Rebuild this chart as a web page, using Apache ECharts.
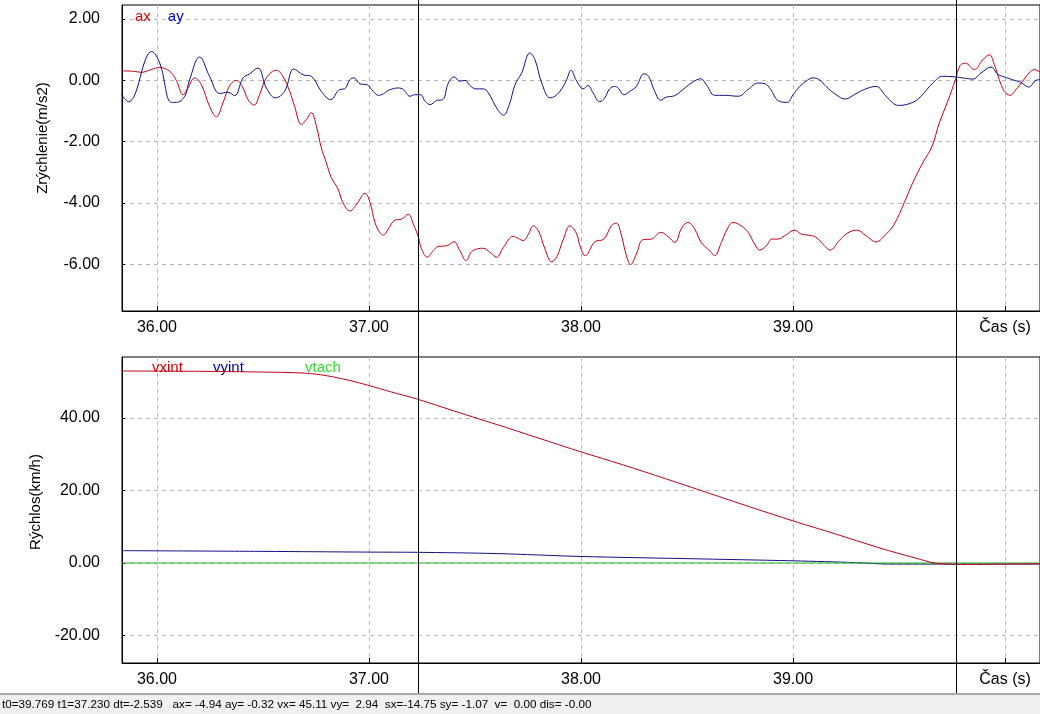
<!DOCTYPE html>
<html>
<head>
<meta charset="utf-8">
<script src="https://cdn.jsdelivr.net/npm/echarts@6/dist/echarts.min.js"></script>
<style>
  html, body { margin: 0; padding: 0; background: #fff; }
  #chart { width: 1040px; height: 714px; }
</style>
</head>
<body>
<div id="chart"></div>
<script>
// time range of the record (s)
var tMin = 35.835;
var tMax = 40.165;
var timeTicks = [36, 37, 38, 39, 40];
var accTicks = [2, 0, -2, -4, -6];
var speedTicks = [40, 20, 0, -20];

// cursors
var cursorT0 = 39.769;
var cursorT1 = 37.230;

// ax (m/s2)
var axTime = [35.832, 35.895, 35.926, 35.973, 36.013, 36.060, 36.091, 36.123, 36.146, 36.178, 36.209, 36.248, 36.280, 36.311, 36.343, 36.374, 36.406, 36.429, 36.458, 36.484, 36.516, 36.563, 36.594, 36.626, 36.649, 36.681, 36.704, 36.728, 36.752, 36.775, 36.799, 36.822, 36.854, 36.877, 36.910, 36.942, 36.981, 37.005, 37.028, 37.052, 37.068, 37.091, 37.123, 37.154, 37.185, 37.209, 37.233, 37.248, 37.275, 37.303, 37.327, 37.366, 37.401, 37.429, 37.458, 37.484, 37.511, 37.539, 37.571, 37.602, 37.634, 37.681, 37.704, 37.728, 37.752, 37.775, 37.799, 37.830, 37.862, 37.885, 37.917, 37.948, 37.980, 37.995, 38.020, 38.065, 38.108, 38.143, 38.167, 38.187, 38.214, 38.234, 38.261, 38.292, 38.332, 38.376, 38.414, 38.442, 38.476, 38.505, 38.536, 38.567, 38.607, 38.630, 38.662, 38.690, 38.717, 38.756, 38.788, 38.819, 38.843, 38.874, 38.901, 38.929, 38.961, 39.008, 39.039, 39.061, 39.108, 39.148, 39.175, 39.218, 39.258, 39.300, 39.344, 39.392, 39.439, 39.478, 39.525, 39.565, 39.612, 39.656, 39.690, 39.730, 39.766, 39.788, 39.813, 39.855, 39.895, 39.926, 39.950, 39.973, 39.997, 40.024, 40.052, 40.083, 40.114, 40.138, 40.165];
var axVal = [0.31, 0.29, 0.26, 0.35, 0.42, 0.29, 0.00, -0.47, -0.25, 0.08, -0.14, -0.85, -1.19, -0.74, -0.17, 0.00, -0.25, -0.63, -0.81, -0.47, 0.08, 0.33, 0.13, -0.36, -0.85, -1.44, -1.28, -1.06, -1.50, -2.20, -2.69, -3.17, -3.55, -3.99, -4.26, -4.04, -3.69, -3.99, -4.64, -4.98, -5.05, -4.85, -4.56, -4.53, -4.37, -4.69, -5.12, -5.50, -5.77, -5.56, -5.42, -5.40, -5.27, -5.56, -5.88, -5.59, -5.50, -5.48, -5.61, -5.77, -5.45, -5.09, -5.16, -5.23, -5.02, -4.75, -4.91, -5.50, -5.92, -5.77, -5.18, -4.75, -5.02, -5.40, -5.72, -5.27, -5.18, -4.75, -4.66, -4.96, -5.72, -6.01, -5.67, -5.20, -5.18, -4.96, -5.12, -5.29, -4.80, -4.64, -4.85, -5.29, -5.56, -5.72, -5.29, -4.85, -4.64, -4.75, -4.96, -5.34, -5.54, -5.40, -5.18, -5.18, -5.07, -4.89, -5.02, -5.04, -5.12, -5.40, -5.54, -5.23, -4.98, -4.89, -5.07, -5.27, -5.02, -4.69, -3.99, -3.34, -2.69, -2.15, -1.39, -0.68, 0.02, 0.48, 0.56, 0.35, 0.67, 0.83, 0.51, 0.02, -0.36, -0.49, -0.30, -0.03, 0.24, 0.35, 0.26];

// ay (m/s2)
var ayTime = [35.832, 35.866, 35.976, 36.013, 36.068, 36.091, 36.131, 36.154, 36.201, 36.248, 36.296, 36.335, 36.366, 36.406, 36.437, 36.476, 36.516, 36.558, 36.602, 36.646, 36.689, 36.728, 36.775, 36.819, 36.862, 36.885, 36.910, 36.929, 36.958, 36.989, 37.020, 37.044, 37.068, 37.091, 37.138, 37.162, 37.193, 37.217, 37.244, 37.264, 37.288, 37.319, 37.348, 37.374, 37.401, 37.429, 37.453, 37.476, 37.505, 37.539, 37.563, 37.602, 37.634, 37.662, 37.689, 37.720, 37.759, 37.783, 37.815, 37.854, 37.877, 37.909, 37.932, 37.953, 37.976, 37.995, 38.009, 38.033, 38.057, 38.088, 38.112, 38.135, 38.159, 38.175, 38.203, 38.230, 38.261, 38.297, 38.319, 38.344, 38.376, 38.402, 38.442, 38.481, 38.520, 38.565, 38.591, 38.631, 38.678, 38.741, 38.788, 38.835, 38.867, 38.895, 38.929, 38.973, 39.000, 39.032, 39.061, 39.093, 39.124, 39.156, 39.203, 39.247, 39.289, 39.336, 39.392, 39.439, 39.498, 39.565, 39.604, 39.659, 39.706, 39.766, 39.808, 39.848, 39.887, 39.934, 39.965, 39.997, 40.036, 40.075, 40.112, 40.146, 40.165];
var ayVal = [-0.47, -0.70, 0.94, 0.56, -0.72, -0.72, -0.52, 0.02, 0.76, 0.13, -0.43, -0.39, -0.50, 0.08, 0.21, 0.40, -0.25, -0.57, -0.36, 0.37, 0.18, 0.13, -0.36, -0.63, -0.30, -0.28, 0.02, 0.08, -0.12, -0.14, -0.36, -0.49, -0.44, -0.33, -0.25, -0.30, -0.52, -0.47, -0.47, -0.68, -0.79, -0.66, -0.63, -0.09, 0.11, -0.03, 0.00, -0.17, -0.28, -0.28, -0.41, -0.90, -1.14, -0.79, -0.14, 0.24, 0.89, 0.67, -0.09, -0.57, -0.52, -0.28, 0.02, 0.33, 0.02, -0.20, -0.28, -0.17, -0.41, -0.70, -0.57, -0.28, -0.20, -0.25, -0.47, -0.36, -0.20, 0.21, 0.13, -0.30, -0.65, -0.55, -0.50, -0.30, -0.09, 0.05, -0.14, -0.49, -0.49, -0.52, -0.30, -0.09, -0.11, -0.30, -0.66, -0.72, -0.47, -0.20, -0.03, 0.08, 0.02, -0.20, -0.47, -0.61, -0.47, -0.30, -0.20, -0.52, -0.82, -0.72, -0.52, -0.09, 0.13, 0.11, 0.07, 0.04, 0.24, 0.43, 0.20, 0.11, 0.02, -0.07, -0.22, 0.00, 0.02];

// vxint (km/h)
var vxTime = [35.835, 36.2, 36.5, 36.7, 36.8, 36.9, 37.0, 37.1, 37.23, 37.4, 37.6, 37.8, 38.0, 38.2, 38.4, 38.6, 38.8, 39.0, 39.2, 39.4, 39.5, 39.6, 39.65, 39.7, 39.8, 40.0, 40.165];
var vxVal = [52.9, 52.8, 52.6, 52.3, 51.6, 50.4, 48.9, 47.2, 45.11, 41.9, 38.2, 34.4, 30.6, 27.0, 23.2, 19.3, 15.4, 11.6, 8.0, 4.3, 2.6, 1.0, 0.2, -0.2, -0.4, -0.3, -0.2];

// vyint (km/h)
var vyTime = [35.835, 36.5, 37.0, 37.23, 37.6, 38.0, 38.5, 39.0, 39.3, 39.45, 40.165];
var vyVal = [3.4, 3.2, 3.0, 2.94, 2.6, 1.8, 1.2, 0.6, 0.1, -0.3, -0.3];

// vtach (km/h)
var vtTime = [35.835, 40.165];
var vtVal = [0, 0];

function pairs(ts, vs) {
  return ts.map(function (t, i) { return [t, vs[i]]; });
}

var FONT = '"Liberation Sans", Arial, sans-serif';

function xAxisCfg(gridIndex) {
  return {
    type: 'value',
    gridIndex: gridIndex,
    min: tMin,
    max: tMax,
    axisLine: { show: true, onZero: false, lineStyle: { color: '#000', width: 1 } },
    axisTick: { show: true, inside: true, length: 5, customValues: timeTicks, lineStyle: { color: '#000' } },
    axisLabel: {
      customValues: timeTicks,
      color: '#000',
      fontSize: 16,
      fontFamily: FONT,
      margin: 9,
      formatter: function (v) { return v === 40 ? 'Čas (s)' : v.toFixed(2); }
    },
    splitLine: { show: true, lineStyle: { color: '#b8b8b8', type: [4, 4], width: 1 } }
  };
}

// namePad shifts the rotated axis title along the axis (upwards)
function yAxisCfg(gridIndex, min, max, ticks, name, namePad) {
  return {
    type: 'value',
    gridIndex: gridIndex,
    min: min,
    max: max,
    name: name,
    nameLocation: 'middle',
    nameGap: 72,
    nameTextStyle: { color: '#000', fontSize: 15, fontFamily: FONT, padding: [0, 0, 0, namePad] },
    axisLine: { show: true, lineStyle: { color: '#000', width: 1 } },
    axisTick: { show: true, inside: true, length: 3, customValues: ticks, lineStyle: { color: '#000' } },
    axisLabel: {
      customValues: ticks,
      color: '#000',
      fontSize: 16,
      fontFamily: FONT,
      margin: 22,
      formatter: function (v) { return v.toFixed(2); }
    },
    splitLine: { show: true, lineStyle: { color: '#b8b8b8', type: [4, 4], width: 1 } }
  };
}

var chartDom = document.getElementById('chart');
var myChart = echarts.init(chartDom, null, { renderer: 'canvas' });
var option;

option = {
  backgroundColor: '#fff',
  animation: false,
  grid: [
    { left: 122, right: -1, top: 5, height: 306, show: true, borderColor: '#000', borderWidth: 1, backgroundColor: 'transparent' },
    { left: 122, right: -1, top: 357, height: 306, show: true, borderColor: '#000', borderWidth: 1, backgroundColor: 'transparent' },
    { left: 122, right: -1, top: 0, bottom: 21, show: false }
  ],
  xAxis: [
    xAxisCfg(0),
    xAxisCfg(1),
    { type: 'value', gridIndex: 2, min: tMin, max: tMax, show: false }
  ],
  yAxis: [
    yAxisCfg(0, -7.527, 2.457, accTicks, 'Zrýchlenie(m/s2)', 40),
    yAxisCfg(1, -27.55, 56.75, speedTicks, 'Rýchlos(km/h)', 16),
    { type: 'value', gridIndex: 2, min: 0, max: 1, show: false }
  ],
  legend: [
    {
      left: 125, top: 4, icon: 'none', itemWidth: 0, itemGap: 12,
      textStyle: { fontSize: 15, fontFamily: FONT },
      selectedMode: false,
      data: [
        { name: 'ax', textStyle: { color: '#e00000' } },
        { name: 'ay', textStyle: { color: '#0000c8' } }
      ]
    },
    {
      left: 142, top: 355, icon: 'none', itemWidth: 0,
      textStyle: { fontSize: 15, fontFamily: FONT },
      selectedMode: false,
      data: [{ name: 'vxint', textStyle: { color: '#e00000' } }]
    },
    {
      left: 203, top: 355, icon: 'none', itemWidth: 0,
      textStyle: { fontSize: 15, fontFamily: FONT },
      selectedMode: false,
      data: [{ name: 'vyint', textStyle: { color: '#0000a8' } }]
    },
    {
      left: 295, top: 355, icon: 'none', itemWidth: 0,
      textStyle: { fontSize: 15, fontFamily: FONT },
      selectedMode: false,
      data: [{ name: 'vtach', textStyle: { color: '#33dd33' } }]
    }
  ],
  series: [
    {
      name: 'ax', type: 'line', xAxisIndex: 0, yAxisIndex: 0,
      data: pairs(axTime, axVal), showSymbol: false, smooth: 0.4,
      lineStyle: { color: '#c40018', width: 1 }, itemStyle: { color: '#c40018' }, z: 3
    },
    {
      name: 'ay', type: 'line', xAxisIndex: 0, yAxisIndex: 0,
      data: pairs(ayTime, ayVal), showSymbol: false, smooth: 0.4,
      lineStyle: { color: '#10108a', width: 1 }, itemStyle: { color: '#10108a' }, z: 4
    },
    {
      name: 'vxint', type: 'line', xAxisIndex: 1, yAxisIndex: 1,
      data: pairs(vxTime, vxVal), showSymbol: false, smooth: 0.3,
      lineStyle: { color: '#c40018', width: 1 }, itemStyle: { color: '#c40018' }, z: 4
    },
    {
      name: 'vyint', type: 'line', xAxisIndex: 1, yAxisIndex: 1,
      data: pairs(vyTime, vyVal), showSymbol: false, smooth: 0.3,
      lineStyle: { color: '#10108a', width: 1 }, itemStyle: { color: '#10108a' }, z: 3
    },
    {
      name: 'vtach', type: 'line', xAxisIndex: 1, yAxisIndex: 1,
      data: pairs(vtTime, vtVal), showSymbol: false,
      lineStyle: { color: '#22bb22', width: 1 }, itemStyle: { color: '#22bb22' }, z: 3
    },
    {
      name: 'cursor', type: 'line', xAxisIndex: 2, yAxisIndex: 2,
      data: [], z: 10,
      markLine: {
        silent: true, symbol: 'none', animation: false,
        label: { show: false },
        lineStyle: { color: '#000', type: 'solid', width: 1 },
        data: [{ xAxis: cursorT0 }, { xAxis: cursorT1 }]
      }
    }
  ],
  graphic: [
    { type: 'rect', left: 0, bottom: 0, shape: { width: 1040, height: 20 }, style: { fill: '#f0f0f0' }, z: 20 },
    { type: 'rect', left: 0, bottom: 19, shape: { width: 1040, height: 2 }, style: { fill: '#a8a8a8' }, z: 21 },
    {
      type: 'text', left: 2, bottom: 3, z: 22,
      style: {
        text: 't0=39.769 t1=37.230 dt=-2.539   ax= -4.94 ay= -0.32 vx= 45.11 vy=  2.94  sx=-14.75 sy= -1.07  v=  0.00 dis= -0.00',
        fill: '#000', font: '11.7px ' + FONT
      }
    }
  ]
};

option && myChart.setOption(option);
</script>
</body>
</html>
